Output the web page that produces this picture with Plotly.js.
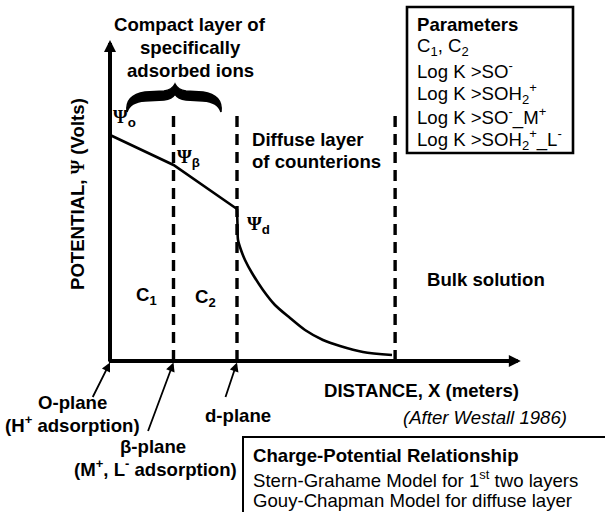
<!DOCTYPE html>
<html><head><meta charset="utf-8">
<script src="https://cdn.plot.ly/plotly-3.0.1.min.js"></script>
<style>html,body{margin:0;padding:0;background:#fff}</style>
</head><body><div id="chart" style="width:605px;height:512px"></div>
<script>
// ---------------- data (diagram units: distance in plane spacings, relative potential) ----------------
const planeNames = ['O-plane', 'β-plane', 'd-plane'];
const planeSub = ['(H<sup>+</sup> adsorption)', '(M<sup>+</sup>, L<sup>-</sup> adsorption)', ''];
const planeX = [0, 1, 2];
const planePsi = [4.52, 3.92, 3.04];
const psiSubs = ['o', 'β', 'd'];
const diffuseX = [2.0, 2.008, 2.016, 2.063, 2.126, 2.236, 2.409, 2.598, 2.835, 3.071, 3.354, 3.622, 3.984, 4.441];
const diffusePsi = [3.04, 2.72, 2.42, 2.22, 2.02, 1.76, 1.42, 1.12, 0.86, 0.62, 0.42, 0.30, 0.18, 0.12];
const bulkX = 4.49;
const boundaryTop = 4.98;
const axisEndX = 6.47;
const axisEndPsi = 6.42;
const capLabels = ['C<sub>1</sub>', 'C<sub>2</sub>'];
const compactTitle = ['Compact layer of', 'specifically', 'adsorbed ions'];
const diffuseTitle = ['Diffuse layer', 'of counterions'];
const paramTitle = 'Parameters';
const paramLines = ['C<sub>1</sub>, C<sub>2</sub>', 'Log K &gt;SO<sup>-</sup>', 'Log K &gt;SOH<sub>2</sub><sup>+</sup>',
  'Log K &gt;SO<sup>-</sup>_M<sup>+</sup>', 'Log K &gt;SOH<sub>2</sub><sup>+</sup>_L<sup>-</sup>'];
const relTitle = 'Charge-Potential Relationship';
const relLines = ['Stern-Grahame Model for 1<sup>st</sup> two layers', 'Gouy-Chapman Model for diffuse layer'];
const xTitle = 'DISTANCE, X (meters)';
const yTitle = 'POTENTIAL, <span style="font-family:Liberation Serif">Ψ</span> (Volts)';
const sourceNote = '(After Westall 1986)';
const bulkLabel = 'Bulk solution';

// ---------------- layout geometry ----------------
const W = 605, H = 512, ox = 110, oy = 361, sx = 63.5, sy = 50;
const px = v => v / W, py = v => 1 - v / H;
const FS = 18.6;
const SANS = 'Liberation Sans, Arial, sans-serif';
const black = '#000';

const traces = [];
// O -> beta -> d linear potential drop
traces.push({x: planeX, y: planePsi, mode: 'lines', line: {color: black, width: 2.6}, hoverinfo: 'skip'});
// diffuse layer
traces.push({x: diffuseX, y: diffusePsi, mode: 'lines', line: {color: black, width: 2.6, shape: 'spline', smoothing: 0.8}, hoverinfo: 'skip'});
// dashed boundary planes
[planeX[1], planeX[2], bulkX].forEach(b => {
  traces.push({x: [b, b], y: [0, boundaryTop], mode: 'lines', line: {color: black, width: 3.4, dash: '11px,7px'}, hoverinfo: 'skip'});
});

const ann = [];
function T(text, x, y, o) {
  ann.push(Object.assign({xref: 'paper', yref: 'paper', x: px(x), y: py(y), text: text, showarrow: false,
    xanchor: 'center', yanchor: 'middle', font: {family: SANS, size: FS, color: black}}, o || {}));
}
// axes with arrowheads
ann.push({xref: 'x', yref: 'y', axref: 'x', ayref: 'y', x: 0, y: axisEndPsi, ax: 0, ay: -0.04, text: '',
  showarrow: true, arrowhead: 2, arrowsize: 0.6, arrowwidth: 4, arrowcolor: black, standoff: 0});
ann.push({xref: 'x', yref: 'y', axref: 'x', ayref: 'y', x: axisEndX, y: 0, ax: -0.04, ay: 0, text: '',
  showarrow: true, arrowhead: 2, arrowsize: 0.6, arrowwidth: 4, arrowcolor: black, standoff: 0});
// plane pointer arrows
const ptr = [[-18, 36], [-26, 70], [-12, 36]];
planeX.forEach((p, i) => {
  ann.push({xref: 'x', yref: 'y', x: p, y: -0.03, ax: ptr[i][0], ay: ptr[i][1], text: '', showarrow: true,
    arrowhead: 2, arrowsize: 1, arrowwidth: 1.8, arrowcolor: black, standoff: 0});
});
// psi labels at the plane potentials
const psiShift = [[1, 17], [1, 7], [8, -16]];
planeX.forEach((p, i) => {
  ann.push({xref: 'x', yref: 'y', x: p, y: planePsi[i], xanchor: 'left', yanchor: 'middle',
    xshift: psiShift[i][0], yshift: psiShift[i][1], showarrow: false,
    text: '<b>Ψ<sub><span style="font-family:Liberation Sans">' + psiSubs[i] + '</span></sub></b>',
    font: {family: 'Liberation Serif, serif', size: 19, color: black}});
});
// texts
compactTitle.forEach((t, i) => T('<b>' + t + '</b>', 190, [24, 47, 70][i]));
diffuseTitle.forEach((t, i) => T('<b>' + t + '</b>', 250, [139, 161][i], {xanchor: 'left'}));
T('<b>' + bulkLabel + '</b>', 425, 279, {xanchor: 'left'});
T('<b>' + capLabels[0] + '</b>', 146, 296);
T('<b>' + capLabels[1] + '</b>', 205, 298);
T('<b>' + yTitle + '</b>', 77, 194, {textangle: -90});
T('<b>' + xTitle + '</b>', 421, 390);
T('<i>' + sourceNote + '</i>', 485, 417);
T('<b>' + planeNames[0] + '</b>', 72, 402);
T('<b>' + planeSub[0] + '</b>', 72, 424);
T('<b>' + planeNames[2] + '</b>', 238, 415);
T('<b>' + planeNames[1] + '</b>', 153, 446);
T('<b>' + planeSub[1] + '</b>', 155, 468);
T('<b>' + paramTitle + '</b>', 415, 24, {xanchor: 'left'});
paramLines.forEach((t, i) => T(t, 415, 47 + 23 * i, {xanchor: 'left'}));
T('<b>' + relTitle + '</b>', 251, 455, {xanchor: 'left'});
relLines.forEach((t, i) => T(t, 251, 479 + 21 * i, {xanchor: 'left'}));

// brace path (pixel space -> paper)
const braceCmds = [
  ['M', 127, 112], ['Q', 125, 95, 145, 92], ['L', 164, 91], ['Q', 172, 90, 175, 84],
  ['Q', 178, 90, 186, 91], ['L', 203, 92], ['Q', 223, 95, 221, 112],
  ['Q', 218, 102, 203, 101], ['L', 186, 100], ['Q', 178, 99, 175, 94],
  ['Q', 172, 99, 164, 100], ['L', 145, 101], ['Q', 130, 102, 127, 112], ['Z']];
const bracePath = braceCmds.map(c => {
  let s = c[0];
  for (let k = 1; k < c.length; k += 2) s += (k > 1 ? ' ' : '') + px(c[k]).toFixed(5) + ',' + py(c[k + 1]).toFixed(5);
  return s;
}).join(' ');

const shapes = [
  {type: 'rect', xref: 'paper', yref: 'paper', x0: px(407), x1: px(573), y0: py(7), y1: py(153), line: {color: black, width: 2.6}},
  {type: 'rect', xref: 'paper', yref: 'paper', x0: px(243), x1: px(612), y0: py(437), y1: py(520), line: {color: black, width: 2}},
  {type: 'path', xref: 'paper', yref: 'paper', path: bracePath, fillcolor: black, line: {color: black, width: 1.5}}
];

const layout = {
  width: W, height: H, autosize: false, margin: {l: 0, r: 0, t: 0, b: 0, pad: 0},
  paper_bgcolor: '#fff', plot_bgcolor: '#fff', showlegend: false,
  xaxis: {range: [-ox / sx, (W - ox) / sx], domain: [0, 1], visible: false, fixedrange: true},
  yaxis: {range: [-(H - oy) / sy, oy / sy], domain: [0, 1], visible: false, fixedrange: true},
  annotations: ann, shapes: shapes
};
Plotly.newPlot('chart', traces, layout, {displayModeBar: false, staticPlot: true});
</script></body></html>
